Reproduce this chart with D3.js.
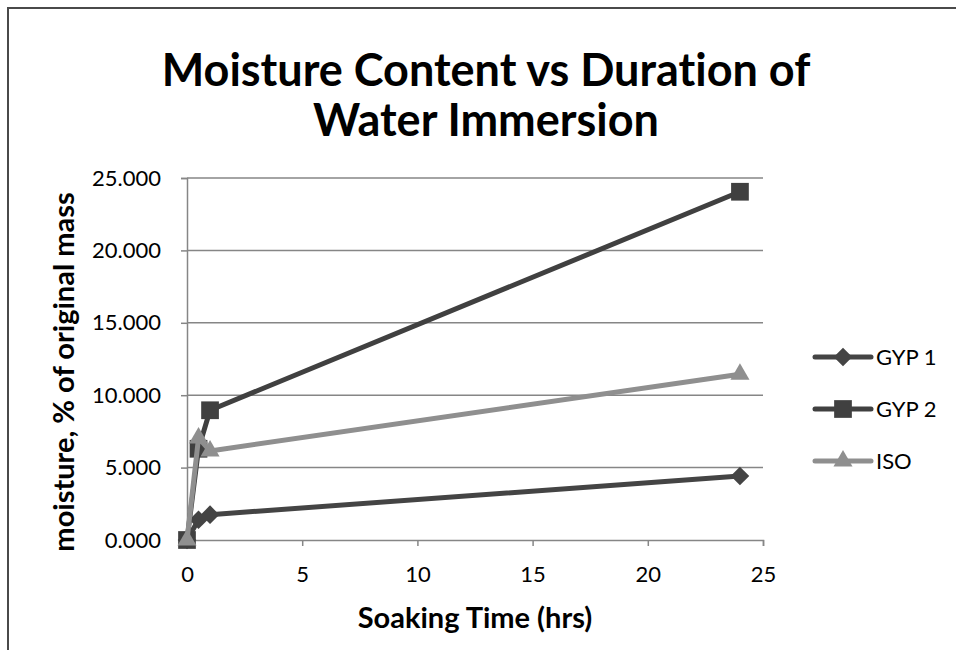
<!DOCTYPE html>
<html><head><meta charset="utf-8">
<script src="https://cdn.jsdelivr.net/npm/d3@7"></script>
<style>body{margin:0;background:#fff}svg{display:block}text{font-family:Lato,"Open Sans",sans-serif;font-variant-ligatures:none}</style>
</head><body><svg id="c" width="956" height="650"></svg>
<script>
const hours = [0, 0.5, 1, 24];
const gyp1 = [0, 1.4, 1.75, 4.42];
const gyp2 = [0, 6.3, 8.96, 24.05];
const iso = [0, 7.05, 6.15, 11.45];
const seriesNames = ["GYP 1", "GYP 2", "ISO"];
const xTicks = [0, 5, 10, 15, 20, 25];
const yTicks = [0, 5, 10, 15, 20, 25];

const series = [
  {name: seriesNames[0], values: gyp1, color: "#444444", shape: d3.symbolDiamond2, size: 220},
  {name: seriesNames[1], values: gyp2, color: "#404040", shape: d3.symbolSquare2, size: 400},
  {name: seriesNames[2], values: iso, color: "#8f8f8f", shape: d3.symbolTriangle2, size: 260}
];

const svg = d3.select("#c");
svg.append("rect").attr("x", 8).attr("y", 8).attr("width", 960).attr("height", 660)
  .attr("fill", "#fff").attr("stroke", "#4a4a4a").attr("stroke-width", 2);

const x = d3.scaleLinear().domain([0, 25]).range([187, 763]);
const y = d3.scaleLinear().domain([0, 25]).range([540, 178]);

// gridlines
svg.append("g").selectAll("line").data(yTicks.filter(d => d > 0)).join("line")
  .attr("x1", x(0)).attr("x2", x(25)).attr("y1", d => y(d)).attr("y2", d => y(d))
  .attr("stroke", "#868686").attr("stroke-width", 1.5);

// axes
const yAxis = svg.append("g").attr("transform", `translate(${x(0)},0)`)
  .call(d3.axisLeft(y).tickValues(yTicks).tickFormat(d3.format(".3f")).tickSize(6).tickPadding(20));
const xAxis = svg.append("g").attr("transform", `translate(0,${y(0)})`)
  .call(d3.axisBottom(x).tickValues(xTicks).tickFormat(d3.format("d")).tickSize(6).tickPadding(20));
[yAxis, xAxis].forEach(a => {
  a.select(".domain").attr("stroke", "#868686").attr("stroke-width", 1.5);
  a.selectAll(".tick line").attr("stroke", "#868686").attr("stroke-width", 1.5);
  a.selectAll("text").attr("font-size", 22).attr("fill", "#000").attr("font-family", "Lato");
});

// lines and markers
const line = d3.line().x((d, i) => x(hours[i])).y(d => y(d));
series.forEach(s => {
  const g = svg.append("g");
  g.append("path").attr("d", line(s.values)).attr("fill", "none")
    .attr("stroke", s.color).attr("stroke-width", 5).attr("stroke-linejoin", "round");
  g.selectAll("path.m").data(s.values).join("path").attr("class", "m")
    .attr("transform", (d, i) => `translate(${x(hours[i])},${y(d)})`)
    .attr("d", d3.symbol().type(s.shape).size(s.size)).attr("fill", s.color);
});

// legend
const lg = svg.append("g");
series.forEach((s, i) => {
  const yy = 357 + i * 52;
  lg.append("line").attr("x1", 815).attr("x2", 871).attr("y1", yy).attr("y2", yy)
    .attr("stroke", s.color).attr("stroke-width", 5).attr("stroke-linecap", "round");
  lg.append("path").attr("transform", `translate(843,${yy})`)
    .attr("d", d3.symbol().type(s.shape).size(s.size)).attr("fill", s.color);
  lg.append("text").attr("x", 876).attr("y", yy).attr("dy", "0.36em")
    .attr("font-size", 22).attr("fill", "#000").text(s.name);
});

// titles
svg.append("text").attr("x", 486).attr("y", 86).attr("text-anchor", "middle")
  .attr("font-size", 45).attr("font-weight", "bold").text("Moisture Content vs Duration of");
svg.append("text").attr("x", 486).attr("y", 136).attr("text-anchor", "middle")
  .attr("font-size", 45).attr("font-weight", "bold").text("Water Immersion");
svg.append("text").attr("x", 475).attr("y", 628).attr("text-anchor", "middle")
  .attr("font-size", 29).attr("font-weight", "bold").text("Soaking Time (hrs)");
svg.append("text").attr("transform", "translate(74,372) rotate(-90)").attr("text-anchor", "middle")
  .attr("font-size", 29).attr("font-weight", "bold").text("moisture, % of original mass");
</script></body></html>
